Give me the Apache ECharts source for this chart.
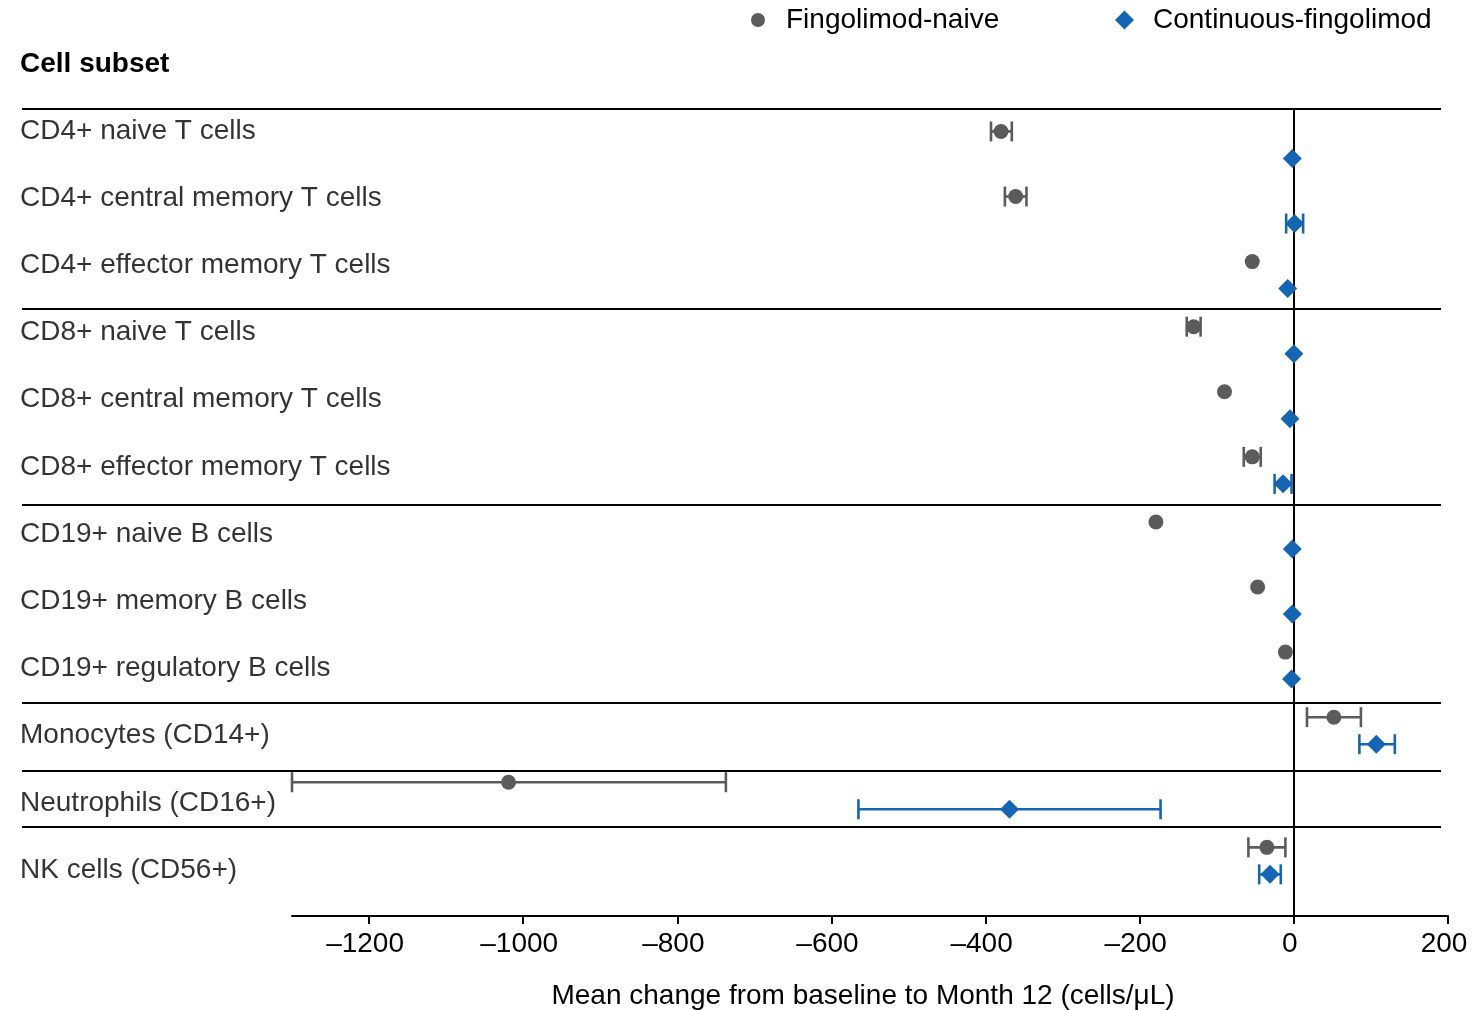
<!DOCTYPE html>
<html>
<head>
<meta charset="utf-8">
<script src="https://cdn.jsdelivr.net/npm/echarts@6/dist/echarts.min.js"></script>
<style>
  html, body { margin: 0; padding: 0; background: #fff; }
  #chart { width: 1480px; height: 1010px; }
</style>
</head>
<body>
<div id="chart"></div>
<script>
// ---------------- data ----------------
const categories = [
  'CD4+ naive T cells',
  'CD4+ central memory T cells',
  'CD4+ effector memory T cells',
  'CD8+ naive T cells',
  'CD8+ central memory T cells',
  'CD8+ effector memory T cells',
  'CD19+ naive B cells',
  'CD19+ memory B cells',
  'CD19+ regulatory B cells',
  'Monocytes (CD14+)',
  'Neutrophils (CD16+)',
  'NK cells (CD56+)'
];
const seriesNames = ['Fingolimod-naive', 'Continuous-fingolimod'];
// Fingolimod-naive: mean and 95% CI (null = CI hidden behind marker)
const naiveMean = [-380, -361, -54, -130, -90, -54, -179, -47, -11, 52, -1019, -35];
const naiveLow  = [-393, -375, null, -139, null, -65, null, null, null, 17, -1300, -59];
const naiveHigh = [-366, -347, null, -121, null, -43, null, null, null, 87, -737, -11];
// Continuous-fingolimod
const contMean = [-2, 1, -8, 0, -5, -14, -2, -2, -3, 107, -369, -31];
const contLow  = [null, -10, null, null, null, -25, null, null, null, 85, -565, -45];
const contHigh = [null, 12, null, null, null, -3, null, null, null, 131, -173, -17];
// x axis
const xMin = -1300, xMax = 200;
const xTicks = [-1200, -1000, -800, -600, -400, -200, 0, 200];
const xAxisTitle = 'Mean change from baseline to Month 12 (cells/\u03bcL)';
const headerText = 'Cell subset';

// ---------------- layout (row units) ----------------
const yMax = 12.4;
const naiveOffset = 0.345, contOffset = 0.76;
const labelStart = 0.335, labelStep = 1.0326;
const separatorRows = [0, 3.062, 6.08, 9.116, 10.167, 11.028];

const grey = '#595b5d';
const blue = '#1565b3';
const FONT = "'Liberation Sans', Arial, Helvetica, sans-serif";
const FS = 28;

function pts(means, off) {
  return means.map((m, i) => [m, i + off]);
}
function bars(lows, highs, off) {
  const out = [];
  lows.forEach((lo, i) => {
    if (lo !== null && highs[i] !== null) out.push([i + off, lo, highs[i]]);
  });
  return out;
}
function errRender(color) {
  return function (params, api) {
    const y = api.value(0);
    const a = api.coord([api.value(1), y]);
    const b = api.coord([api.value(2), y]);
    const h = 10;
    const st = { stroke: color, lineWidth: 2.6 };
    return {
      type: 'group',
      children: [
        { type: 'line', shape: { x1: a[0], y1: a[1], x2: b[0], y2: b[1] }, style: st },
        { type: 'line', shape: { x1: a[0], y1: a[1] - h, x2: a[0], y2: a[1] + h }, style: st },
        { type: 'line', shape: { x1: b[0], y1: b[1] - h, x2: b[0], y2: b[1] + h }, style: st }
      ]
    };
  };
}

const chart = echarts.init(document.getElementById('chart'), null, { renderer: 'canvas' });
const option = {
  animation: false,
  backgroundColor: '#fff',
  textStyle: { fontFamily: FONT },
  title: {
    text: headerText,
    left: 20, top: 50, padding: 0,
    textStyle: { fontFamily: FONT, fontSize: FS, fontWeight: 'bold', color: '#000' }
  },
  legend: [
    {
      data: [{ name: seriesNames[0], icon: 'circle' }],
      left: 751, top: 6, padding: 0,
      itemWidth: 14, itemHeight: 14,
      textStyle: { fontFamily: FONT, fontSize: FS, color: '#000', padding: [0, 0, 0, 16] }
    },
    {
      data: [{ name: seriesNames[1], icon: 'diamond' }],
      left: 1115, top: 6, padding: 0,
      itemWidth: 19, itemHeight: 19,
      textStyle: { fontFamily: FONT, fontSize: FS, color: '#000', padding: [0, 0, 0, 14] }
    }
  ],
  grid: [
    { left: 292, right: 32, top: 109, bottom: 94, containLabel: false, outerBoundsMode: 'none' },
    { left: 22, right: 39, top: 109, bottom: 94, containLabel: false, outerBoundsMode: 'none' }
  ],
  xAxis: [
    {
      gridIndex: 0, type: 'value', min: xMin, max: xMax,
      splitLine: { show: false },
      axisLine: { show: true, onZero: false, lineStyle: { color: '#000', width: 2 } },
      axisTick: { show: true, length: 8, customValues: xTicks, lineStyle: { color: '#000', width: 2 } },
      axisLabel: {
        fontFamily: FONT, fontSize: FS, color: '#000', margin: 14,
        customValues: xTicks, padding: [0, 8, 0, 0],
        formatter: v => (v < 0 ? '\u2013' + Math.abs(v) : String(v))
      },
      name: xAxisTitle, nameLocation: 'middle', nameGap: 66,
      nameTextStyle: { fontFamily: FONT, fontSize: FS, color: '#000', padding: [0, 14, 0, 0] }
    },
    { gridIndex: 1, type: 'value', min: 0, max: 1, show: false }
  ],
  yAxis: [
    { gridIndex: 0, type: 'value', min: 0, max: yMax, inverse: true, show: false },
    { gridIndex: 1, type: 'value', min: 0, max: yMax, inverse: true, show: false }
  ],
  series: [
    {
      name: 'separators', type: 'lines', coordinateSystem: 'cartesian2d',
      xAxisIndex: 1, yAxisIndex: 1, silent: true,
      lineStyle: { color: '#000', width: 2, opacity: 1 },
      data: separatorRows.map(s => ({ coords: [[0, s], [1, s]] }))
    },
    {
      name: 'labels', type: 'scatter', xAxisIndex: 1, yAxisIndex: 1,
      symbolSize: 0, silent: true,
      label: {
        show: true, position: 'right', distance: 0, offset: [-2, 0],
        formatter: '{b}', fontFamily: FONT, fontSize: FS, color: '#000'
      },
      data: categories.map((c, i) => ({ name: c, value: [0, labelStart + labelStep * i] }))
    },
    {
      name: 'naiveCI', type: 'custom', xAxisIndex: 0, yAxisIndex: 0,
      renderItem: errRender(grey), encode: { x: [1, 2], y: 0 },
      data: bars(naiveLow, naiveHigh, naiveOffset), z: 3, silent: true
    },
    {
      name: 'contCI', type: 'custom', xAxisIndex: 0, yAxisIndex: 0,
      renderItem: errRender(blue), encode: { x: [1, 2], y: 0 },
      data: bars(contLow, contHigh, contOffset), z: 3, silent: true
    },
    {
      name: seriesNames[0], type: 'scatter', xAxisIndex: 0, yAxisIndex: 0,
      symbol: 'circle', symbolSize: 15, z: 5,
      itemStyle: { color: grey, opacity: 1 },
      data: pts(naiveMean, naiveOffset),
      markLine: {
        silent: true, symbol: ['none', 'none'], label: { show: false },
        lineStyle: { color: '#000', width: 2, type: 'solid' },
        data: [{ xAxis: 0 }], z: 2
      }
    },
    {
      name: seriesNames[1], type: 'scatter', xAxisIndex: 0, yAxisIndex: 0,
      symbol: 'diamond', symbolSize: [19, 19], z: 6,
      itemStyle: { color: blue, opacity: 1 },
      data: pts(contMean, contOffset)
    }
  ]
};
chart.setOption(option);
</script>
</body>
</html>
